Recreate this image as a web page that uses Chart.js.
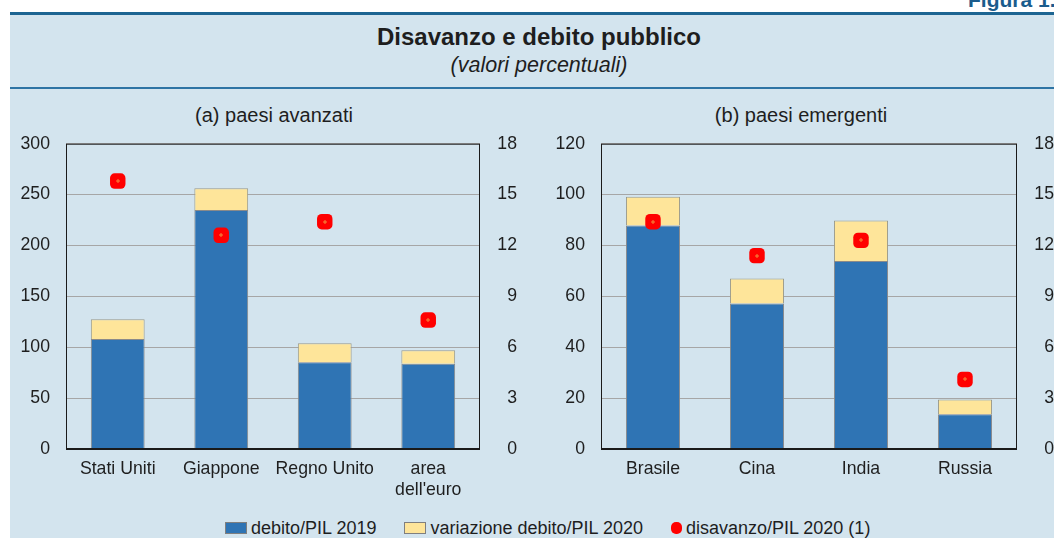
<!DOCTYPE html>
<html>
<head>
<meta charset="utf-8">
<script src="https://cdn.jsdelivr.net/npm/chart.js@4.4.1/dist/chart.umd.min.js"></script>
<style>
  body { margin: 0; width: 1054px; height: 538px; position: relative; overflow: hidden; background: #fff;
         font-family: 'Liberation Sans', Arial, Helvetica, sans-serif; color: #1e1e1e; }
  .abs { position: absolute; white-space: nowrap; }
  #figura { left: 968px; top: -11px; font-size: 21px; line-height: 21px; font-weight: bold; color: #1b5c8c; }
  #rule1 { left: 10px; top: 12px; width: 1044px; height: 3px; background: #1d6592; }
  #panel { left: 10px; top: 15px; width: 1044px; height: 523px; background: #d3e4ee; }
  #rule2 { left: 10px; top: 87px; width: 1044px; height: 2px; background: #2e74a4; }
  #title { left: 10px; width: 1058px; text-align: center; top: 25px; font-size: 24px; line-height: 24px; font-weight: bold; }
  #subtitle { left: 10px; width: 1058px; text-align: center; top: 55px; font-size: 21.5px; line-height: 21.5px; font-style: italic; }
  .ptitle { top: 105px; font-size: 20px; line-height: 20px; text-align: center; width: 300px; }
  #chartA { left: 10px; top: 125px; }
  #chartB { left: 530px; top: 125px; }
  #legend { left: 225px; top: 519px; height: 18px; display: flex; align-items: center; font-size: 18px; line-height: 18px; }
  #legend .item { display: flex; align-items: center; margin-right: 28px; }
  #legend .box { width: 20px; height: 10px; border: 1px solid #7f7f7f; margin-right: 4px; }
  #legend .dot { width: 11px; height: 12px; border-radius: 5px; background: #ff0000; margin-right: 4px; }
</style>
</head>
<body>
<div class="abs" id="figura">Figura 1.</div>
<div class="abs" id="rule1"></div>
<div class="abs" id="panel"></div>
<div class="abs" id="title">Disavanzo e debito pubblico</div>
<div class="abs" id="subtitle">(valori percentuali)</div>
<div class="abs" id="rule2"></div>
<div class="abs ptitle" style="left:124px">(a) paesi avanzati</div>
<div class="abs ptitle" style="left:651px">(b) paesi emergenti</div>
<canvas class="abs" id="chartA" width="520" height="380"></canvas>
<canvas class="abs" id="chartB" width="524" height="380"></canvas>
<div class="abs" id="legend">
  <span class="item"><span class="box" style="background:#2f74b4"></span>debito/PIL 2019</span>
  <span class="item"><span class="box" style="background:#fee59a"></span>variazione debito/PIL 2020</span>
  <span class="item"><span class="dot"></span>disavanzo/PIL 2020 (1)</span>
</div>
<script>
// (a) paesi avanzati
const labelsA = ['Stati Uniti', 'Giappone', 'Regno Unito', ['area', "dell'euro"]];
const debitoA = [108, 234.8, 85.2, 83.8];
const variazioneA = [19.5, 21.4, 18.7, 13.2];
const disavanzoA = [15.8, 12.6, 13.4, 7.6];

// (b) paesi emergenti
const labelsB = ['Brasile', 'Cina', 'India', 'Russia'];
const debitoB = [87.8, 57.2, 73.9, 13.7];
const variazioneB = [11.3, 9.8, 15.9, 5.8];
const disavanzoB = [13.4, 11.4, 12.3, 4.1];

// axis ranges
const leftMaxA = 300, leftStepA = 50;
const leftMaxB = 120, leftStepB = 20;
const rightMax = 18, rightStep = 3;

const FONT = { family: "'Liberation Sans', Arial, sans-serif", size: 17.7 };
const TEXT = '#1e1e1e';

// black frame round the plot area, thicker at the bottom
const framePlugin = {
    id: 'frame',
    afterDraw(chart) {
        const a = chart.chartArea;
        const ctx = chart.ctx;
        ctx.save();
        ctx.strokeStyle = '#1a1a1a';
        ctx.lineWidth = 1;
        ctx.strokeRect(a.left + 0.5, a.top + 0.5, a.right - a.left - 1, a.bottom - a.top);
        ctx.lineWidth = 2;
        ctx.beginPath();
        ctx.moveTo(a.left, a.bottom);
        ctx.lineTo(a.right, a.bottom);
        ctx.stroke();
        ctx.restore();
    }
};

// small orange cross in the middle of each red marker
const centerMark = {
    id: 'centerMark',
    afterDatasetsDraw(chart) {
        const ctx = chart.ctx;
        const meta = chart.getDatasetMeta(2);
        ctx.save();
        ctx.fillStyle = '#f3883a';
        meta.data.forEach(p => {
            ctx.fillRect(Math.round(p.x) - 2, Math.round(p.y) - 0.5, 4, 1);
            ctx.fillRect(Math.round(p.x) - 0.5, Math.round(p.y) - 2, 1, 4);
        });
        ctx.restore();
    }
};

function makeChart(canvasId, labels, debito, variazione, disavanzo, cfg) {
    const ctx = document.getElementById(canvasId).getContext('2d');
    return new Chart(ctx, {
        type: 'bar',
        data: {
            labels: labels,
            datasets: [
                {
                    label: 'debito/PIL 2019',
                    data: debito,
                    backgroundColor: '#2f74b4',
                    borderColor: '#8a8a8a',
                    borderWidth: 1,
                    yAxisID: 'y',
                    order: 1
                },
                {
                    label: 'variazione debito/PIL 2020',
                    data: variazione,
                    backgroundColor: '#fee59a',
                    borderColor: '#9a9a8a',
                    borderWidth: 1,
                    yAxisID: 'y',
                    order: 1
                },
                {
                    type: 'line',
                    label: 'disavanzo/PIL 2020 (1)',
                    data: disavanzo,
                    showLine: false,
                    pointStyle: 'rectRounded',
                    pointRadius: 9,
                    pointBackgroundColor: '#ff0000',
                    pointBorderWidth: 0,
                    yAxisID: 'y1',
                    order: 0
                }
            ]
        },
        options: {
            responsive: false,
            animation: false,
            layout: { padding: { top: 18.7, bottom: 0, left: 0, right: cfg.rightEdge } },
            datasets: { bar: { barPercentage: 0.52, categoryPercentage: 1 } },
            plugins: { legend: { display: false }, tooltip: { enabled: false } },
            scales: {
                x: {
                    stacked: true,
                    grid: { display: false, drawTicks: false },
                    border: { display: false },
                    ticks: { font: FONT, color: TEXT, padding: 9, maxRotation: 0, autoSkip: false },
                    afterFit: s => { s.height = 56; }
                },
                y: {
                    stacked: true,
                    position: 'left',
                    min: 0,
                    max: cfg.leftMax,
                    ticks: { stepSize: cfg.leftStep, font: FONT, color: TEXT, padding: cfg.leftPad },
                    grid: { color: '#a6a6a6', lineWidth: 1, drawTicks: false },
                    border: { display: false },
                    afterFit: s => { s.width = cfg.leftWidth; s.paddingTop = 0; s.paddingBottom = 0; }
                },
                y1: {
                    position: 'right',
                    min: 0,
                    max: rightMax,
                    ticks: { stepSize: rightStep, font: FONT, color: TEXT, crossAlign: 'far' },
                    grid: { display: false, drawTicks: false },
                    border: { display: false },
                    afterFit: s => { s.width = cfg.rightWidth; s.paddingTop = 0; s.paddingBottom = 0; }
                }
            }
        },
        plugins: [framePlugin, centerMark]
    });
}

window.onload = function () {
    makeChart('chartA', labelsA, debitoA, variazioneA, disavanzoA,
        { leftMax: leftMaxA, leftStep: leftStepA, leftWidth: 56, leftPad: 16, rightWidth: 37, rightEdge: 13 });
    makeChart('chartB', labelsB, debitoB, variazioneB, disavanzoB,
        { leftMax: leftMaxB, leftStep: leftStepB, leftWidth: 71, leftPad: 16, rightWidth: 37, rightEdge: 0 });
};
</script>
</body>
</html>
